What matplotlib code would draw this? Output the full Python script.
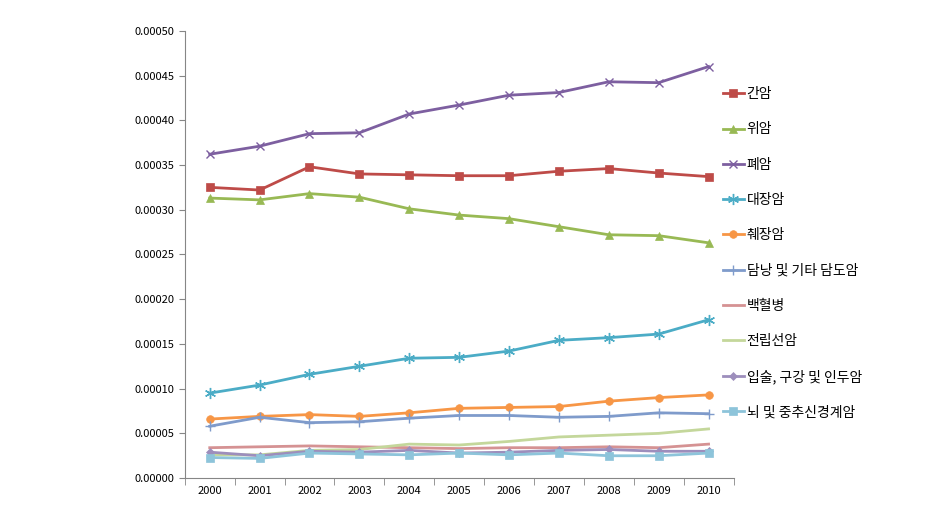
import matplotlib
matplotlib.use('Agg')
import matplotlib.pyplot as plt
import numpy as np

plt.rcParams['font.family'] = ['Noto Sans CJK KR', 'DejaVu Sans']

# --- DATA ---
years = ['2000', '2001', '2002', '2003', '2004', '2005', '2006', '2007', '2008', '2009', '2010']

liver = [0.000325, 0.000322, 0.000348, 0.000340, 0.000339, 0.000338, 0.000338, 0.000343, 0.000346, 0.000341, 0.000337]
stomach = [0.000313, 0.000311, 0.000318, 0.000314, 0.000301, 0.000294, 0.000290, 0.000281, 0.000272, 0.000271, 0.000263]
lung = [0.000362, 0.000371, 0.000385, 0.000386, 0.000407, 0.000417, 0.000428, 0.000431, 0.000443, 0.000442, 0.000460]
colon = [0.000095, 0.000104, 0.000116, 0.000125, 0.000134, 0.000135, 0.000142, 0.000154, 0.000157, 0.000161, 0.000177]
pancreas = [0.000066, 0.000069, 0.000071, 0.000069, 0.000073, 0.000078, 0.000079, 0.000080, 0.000086, 0.000090, 0.000093]
gallbladder = [0.000058, 0.000068, 0.000062, 0.000063, 0.000067, 0.000070, 0.000070, 0.000068, 0.000069, 0.000073, 0.000072]
leukemia = [0.000034, 0.000035, 0.000036, 0.000035, 0.000034, 0.000033, 0.000034, 0.000034, 0.000035, 0.000034, 0.000038]
prostate = [0.000026, 0.000026, 0.000031, 0.000032, 0.000038, 0.000037, 0.000041, 0.000046, 0.000048, 0.000050, 0.000055]
oral = [0.000029, 0.000025, 0.000030, 0.000029, 0.000031, 0.000028, 0.000029, 0.000031, 0.000032, 0.000030, 0.000030]
brain = [0.000023, 0.000022, 0.000028, 0.000027, 0.000026, 0.000028, 0.000026, 0.000028, 0.000025, 0.000025, 0.000028]

labels = ['간암', '위암', '폐암', '대장암', '췌장암', '담낭 및 기타 담도암',
          '백혈병', '전립선암', '입술, 구강 및 인두암', '뇌 및 중추신경계암']

# --- STYLE per series: (color, marker, markersize) ---
asterisk = (6, 2, 0)
styles = [
    ('#BE4B48', 's', 5.5),
    ('#98B954', '^', 5.5),
    ('#7D5FA0', 'x', 6),
    ('#4BACC6', asterisk, 8),
    ('#F79646', 'o', 5.5),
    ('#7F9BCB', '+', 7),
    ('#D59293', None, 0),
    ('#C4D79B', None, 0),
    ('#9D8EBC', 'D', 4),
    ('#8DC4DA', 's', 5.5),
]

series = [liver, stomach, lung, colon, pancreas, gallbladder, leukemia, prostate, oral, brain]

fig = plt.figure(figsize=(9.38, 5.13), dpi=100)
ax = fig.add_axes([0.197, 0.068, 0.585, 0.872])

x = np.arange(len(years))
for vals, lab, (col, mk, ms) in zip(series, labels, styles):
    thin = mk in ('x', '+', asterisk)
    ax.plot(x, vals, color=col, lw=2, marker=mk, markersize=ms,
            markeredgewidth=1.0 if thin else 0.5,
            markeredgecolor=col, markerfacecolor=col, label=lab)

ax.set_xlim(-0.5, len(years) - 0.5)
ax.set_ylim(0, 0.0005)
yt = np.arange(0, 0.00051, 0.00005)
ax.set_yticks(yt)
ax.set_yticklabels([f'{v:.5f}' for v in yt], fontsize=8)

# category labels centred, tick marks between categories
ax.set_xticks(x)
ax.set_xticklabels(years, fontsize=8)
ax.tick_params(axis='x', length=0, pad=6)
ax.set_xticks(np.arange(-0.5, len(years)), minor=True)
ax.tick_params(axis='x', which='minor', length=5, color='#868686')
ax.tick_params(axis='y', length=4, color='#868686')

for side in ['top', 'right']:
    ax.spines[side].set_visible(False)
for side in ['left', 'bottom']:
    ax.spines[side].set_color('#868686')

leg = ax.legend(loc='upper left', bbox_to_anchor=(0.958, 0.902), frameon=False,
                fontsize=10, labelspacing=1.53, handlelength=1.5, handletextpad=0.2)

plt.savefig('out.png', dpi=100)
